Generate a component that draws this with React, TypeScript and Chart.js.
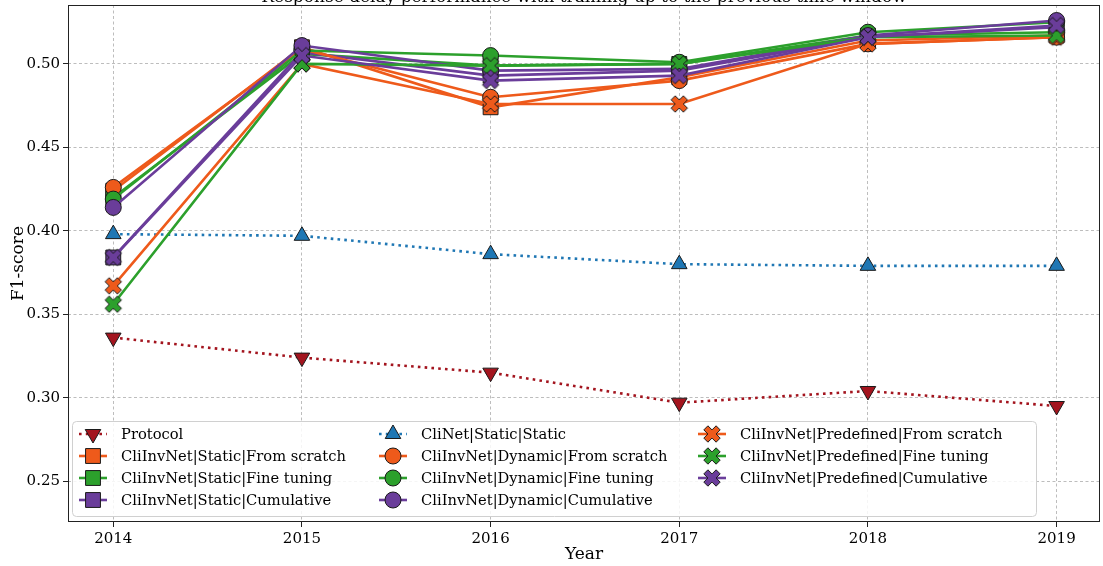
import React, { useEffect, useRef } from 'react';
import { Chart, registerables } from 'chart.js';
import { drawPoint } from 'chart.js/helpers';

Chart.register(...registerables);

const TITLE = 'Response delay performance with training up to the previous time window';
const X_LABEL = 'Year';
const Y_LABEL = 'F1-score';
const YEARS = [2014, 2015, 2016, 2017, 2018, 2019];
const Y_TICKS = [0.25, 0.3, 0.35, 0.4, 0.45, 0.5];

const PROTOCOL = [0.336, 0.324, 0.315, 0.297, 0.304, 0.295];
const CLINET = [0.398, 0.397, 0.386, 0.38, 0.379, 0.379];
const STATIC_FS = [0.424, 0.51, 0.474, 0.492, 0.514, 0.517];
const STATIC_FT = [0.42, 0.506, 0.499, 0.5, 0.517, 0.519];
const STATIC_CUM = [0.384, 0.507, 0.493, 0.496, 0.516, 0.522];
const DYN_FS = [0.426, 0.509, 0.48, 0.49, 0.512, 0.516];
const DYN_FT = [0.419, 0.508, 0.505, 0.501, 0.519, 0.525];
const DYN_CUM = [0.414, 0.511, 0.496, 0.497, 0.517, 0.526];
const PRED_FS = [0.367, 0.5, 0.476, 0.476, 0.512, 0.516];
const PRED_FT = [0.356, 0.5, 0.499, 0.5, 0.516, 0.517];
const PRED_CUM = [0.384, 0.505, 0.49, 0.493, 0.516, 0.523];

const RED = '#A3141E';
const BLUE = '#1F77B4';
const ORANGE = '#EE5A1B';
const GREEN = '#2CA02C';
const PURPLE = '#6A3D9A';

type Marker = 'tri-down' | 'tri-up' | 'square' | 'circle' | 'x';
interface Series { label: string; values: number[]; color: string; marker: Marker; dotted: boolean; }

// plotting order (matplotlib order, later on top)
const SERIES: Series[] = [
  { label: 'Protocol', values: PROTOCOL, color: RED, marker: 'tri-down', dotted: true },
  { label: 'CliInvNet|Static|From scratch', values: STATIC_FS, color: ORANGE, marker: 'square', dotted: false },
  { label: 'CliInvNet|Static|Fine tuning', values: STATIC_FT, color: GREEN, marker: 'square', dotted: false },
  { label: 'CliInvNet|Static|Cumulative', values: STATIC_CUM, color: PURPLE, marker: 'square', dotted: false },
  { label: 'CliNet|Static|Static', values: CLINET, color: BLUE, marker: 'tri-up', dotted: true },
  { label: 'CliInvNet|Dynamic|From scratch', values: DYN_FS, color: ORANGE, marker: 'circle', dotted: false },
  { label: 'CliInvNet|Dynamic|Fine tuning', values: DYN_FT, color: GREEN, marker: 'circle', dotted: false },
  { label: 'CliInvNet|Dynamic|Cumulative', values: DYN_CUM, color: PURPLE, marker: 'circle', dotted: false },
  { label: 'CliInvNet|Predefined|From scratch', values: PRED_FS, color: ORANGE, marker: 'x', dotted: false },
  { label: 'CliInvNet|Predefined|Fine tuning', values: PRED_FT, color: GREEN, marker: 'x', dotted: false },
  { label: 'CliInvNet|Predefined|Cumulative', values: PRED_CUM, color: PURPLE, marker: 'x', dotted: false },
];

const FONT = '"DejaVu Serif", serif';
const EDGE = '#1a1a1a';

function makeXImage(color: string): HTMLCanvasElement {
  const c = document.createElement('canvas');
  c.width = 20;
  c.height = 20;
  const ctx = c.getContext('2d')!;
  const t = 2.9;
  const L = 8.7;
  const pts: [number, number][] = [
    [t, L], [t, t], [L, t], [L, -t], [t, -t], [t, -L],
    [-t, -L], [-t, -t], [-L, -t], [-L, t], [-t, t], [-t, L],
  ];
  const a = Math.PI / 4;
  ctx.beginPath();
  pts.forEach(([px, py], i) => {
    const rx = px * Math.cos(a) - py * Math.sin(a) + 10;
    const ry = px * Math.sin(a) + py * Math.cos(a) + 10;
    if (i === 0) ctx.moveTo(rx, ry); else ctx.lineTo(rx, ry);
  });
  ctx.closePath();
  ctx.fillStyle = color;
  ctx.fill();
  ctx.lineWidth = 1;
  ctx.strokeStyle = EDGE;
  ctx.stroke();
  return c;
}

function pointOpts(s: Series, xImgs: Record<string, HTMLCanvasElement>) {
  switch (s.marker) {
    case 'tri-down': return { pointStyle: 'triangle' as any, radius: 9, rotation: 180 };
    case 'tri-up': return { pointStyle: 'triangle' as any, radius: 9, rotation: 0 };
    case 'square': return { pointStyle: 'rect' as any, radius: 10.5, rotation: 0 };
    case 'circle': return { pointStyle: 'circle' as any, radius: 8, rotation: 0 };
    default: return { pointStyle: xImgs[s.color] as any, radius: 9, rotation: 0 };
  }
}

export default function App() {
  const ref = useRef<HTMLCanvasElement | null>(null);

  useEffect(() => {
    if (!ref.current) return;
    const xImgs: Record<string, HTMLCanvasElement> = {
      [ORANGE]: makeXImage(ORANGE),
      [GREEN]: makeXImage(GREEN),
      [PURPLE]: makeXImage(PURPLE),
    };
    const N = SERIES.length;

    const datasets = SERIES.map((s, i) => {
      const p = pointOpts(s, xImgs);
      return {
        label: s.label,
        data: YEARS.map((y, j) => ({ x: y, y: s.values[j] })),
        borderColor: s.color,
        backgroundColor: s.color,
        borderWidth: 2.6,
        borderDash: s.dotted ? [2.6, 4.2] : [],
        pointStyle: p.pointStyle,
        pointRadius: p.radius,
        pointRotation: p.rotation,
        pointBackgroundColor: s.color,
        pointBorderColor: EDGE,
        pointBorderWidth: 1,
        tension: 0,
        order: N - i,
        clip: false as any,
      };
    });

    const framePlugin = {
      id: 'framePlugin',
      afterDraw(chart: any) {
        const { ctx, chartArea: ca } = chart;
        ctx.save();
        // title (mostly outside the visible window)
        ctx.font = `17px ${FONT}`;
        ctx.fillStyle = '#000';
        ctx.textAlign = 'center';
        ctx.textBaseline = 'alphabetic';
        ctx.fillText(TITLE, (ca.left + ca.right) / 2, ca.top - 3);
        // frame
        ctx.strokeStyle = '#222';
        ctx.lineWidth = 1;
        ctx.setLineDash([]);
        ctx.strokeRect(ca.left + 0.5, ca.top + 0.5, ca.right - ca.left - 1, ca.bottom - ca.top - 1);

        // legend
        const bx = ca.left + 4;
        const by = ca.bottom - 101;
        const bw = 964;
        const bh = 95;
        ctx.beginPath();
        (ctx as any).roundRect(bx + 0.5, by + 0.5, bw, bh, 4);
        ctx.fillStyle = 'rgba(255,255,255,0.85)';
        ctx.fill();
        ctx.strokeStyle = '#d0d0d0';
        ctx.stroke();

        const colX = [bx + 21, bx + 321, bx + 640];
        const rowY = [by + 13, by + 35, by + 57, by + 79];
        const perCol = [4, 4, 3];
        let idx = 0;
        for (let c = 0; c < 3; c++) {
          for (let r = 0; r < perCol[c]; r++) {
            const s = SERIES[idx++];
            const cx = colX[c];
            const cy = rowY[r];
            ctx.save();
            ctx.strokeStyle = s.color;
            ctx.lineWidth = 2.6;
            ctx.setLineDash(s.dotted ? [2.6, 4.2] : []);
            ctx.beginPath();
            ctx.moveTo(cx - 14, cy);
            ctx.lineTo(cx + 14, cy);
            ctx.stroke();
            ctx.restore();
            const p = pointOpts(s, xImgs);
            ctx.save();
            ctx.fillStyle = s.color;
            ctx.strokeStyle = EDGE;
            ctx.lineWidth = 1;
            ctx.setLineDash([]);
            drawPoint(ctx, { pointStyle: p.pointStyle, radius: p.radius, rotation: p.rotation, borderWidth: 1 } as any, cx, cy);
            ctx.restore();
            ctx.font = `14.7px ${FONT}`;
            ctx.fillStyle = '#000';
            ctx.textAlign = 'left';
            ctx.textBaseline = 'middle';
            ctx.fillText(s.label, cx + 28, cy + 1);
          }
        }
        ctx.restore();
      },
    };

    const gridCommon = {
      color: '#b5b5b5',
      lineWidth: 0.9,
      drawTicks: true,
      tickLength: 5,
      tickColor: '#222',
      tickWidth: 1,
      tickBorderDash: [],
    };
    const borderCommon = { display: false, dash: [3, 2.5] };

    const chart = new Chart(ref.current, {
      type: 'line',
      data: { datasets: datasets as any },
      options: {
        animation: false,
        responsive: false,
        maintainAspectRatio: false,
        layout: { autoPadding: false, padding: { left: 0, right: 3, top: 5, bottom: 0 } },
        plugins: { legend: { display: false }, tooltip: { enabled: false }, title: { display: false } },
        scales: {
          x: {
            type: 'linear',
            min: 2013.76,
            max: 2019.23,
            afterBuildTicks: (scale: any) => { scale.ticks = YEARS.map((v) => ({ value: v })); },
            afterFit: (scale: any) => { scale.height = 44; scale.paddingLeft = 0; scale.paddingRight = 0; },
            ticks: {
              font: { family: FONT, size: 15 },
              color: '#000',
              padding: 3,
              maxRotation: 0,
              autoSkip: false,
              callback: (v: any) => String(v),
            },
            grid: gridCommon as any,
            border: borderCommon as any,
            title: { display: true, text: X_LABEL, font: { family: FONT, size: 17 }, color: '#000', padding: { top: 0, bottom: 1 } },
          },
          y: {
            type: 'linear',
            min: 0.2255,
            max: 0.5353,
            afterBuildTicks: (scale: any) => { scale.ticks = Y_TICKS.map((v) => ({ value: v })); },
            afterFit: (scale: any) => { scale.width = 68; scale.paddingTop = 0; scale.paddingBottom = 0; },
            ticks: {
              font: { family: FONT, size: 15 },
              color: '#000',
              padding: 3,
              callback: (v: any) => Number(v).toFixed(2),
            },
            grid: gridCommon as any,
            border: borderCommon as any,
            title: { display: true, text: Y_LABEL, font: { family: FONT, size: 17 }, color: '#000', padding: { top: 8, bottom: 0 } },
          },
        },
      },
      plugins: [framePlugin],
    });
    return () => chart.destroy();
  }, []);

  return (
    <div style={{ position: 'fixed', left: 0, top: 0, width: 1103, height: 566, background: '#fff' }}>
      <canvas ref={ref} width={1103} height={566} style={{ width: 1103, height: 566, display: 'block' }} />
    </div>
  );
}
